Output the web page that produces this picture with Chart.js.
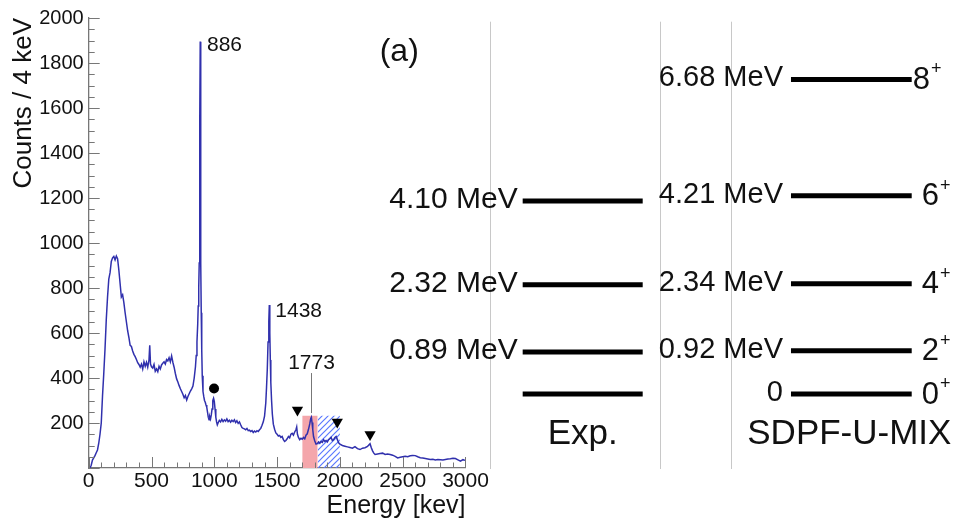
<!DOCTYPE html>
<html>
<head>
<meta charset="utf-8">
<script src="https://cdn.jsdelivr.net/npm/chart.js@4.4.1/dist/chart.umd.min.js"></script>
<style>
  html,body{margin:0;padding:0;background:#fff;}
  #wrap{position:relative;width:961px;height:519px;}
  canvas{position:absolute;left:0;top:0;}
</style>
</head>
<body>
<div id="wrap">
  <canvas id="spec" width="961" height="519"></canvas>
  <canvas id="lev" width="961" height="519"></canvas>
</div>
<script>
// ---------------- DATA ----------------
// gamma spectrum (energy in keV, counts / 4 keV)
const energies = [
  0,10,20,30,40,50,60,70,80,90,
  100,110,120,130,140,150,160,170,180,190,
  200,210,220,230,240,250,260,270,280,290,
  300,310,320,330,340,350,360,370,380,390,
  400,410,420,430,440,450,460,470,480,486,
  492,500,510,520,530,540,550,560,570,580,
  590,600,610,620,630,640,650,660,670,680,
  690,700,710,720,730,740,750,760,770,780,
  790,800,810,820,830,840,850,856,862,868,
  872,876,880,884,888,892,896,900,904,910,
  916,922,928,934,940,946,952,958,964,970,
  976,982,988,994,1000,1006,1012,1018,1024,1030,
  1040,1050,1060,1070,1080,1090,1100,1110,1120,1130,
  1140,1150,1160,1170,1180,1190,1200,1210,1220,1230,
  1240,1250,1260,1270,1280,1290,1300,1310,1320,1330,
  1340,1350,1360,1370,1380,1390,1400,1410,1416,1422,
  1428,1434,1438,1442,1446,1450,1456,1462,1470,1480,
  1490,1500,1510,1520,1530,1540,1550,1560,1570,1580,
  1590,1600,1610,1620,1630,1640,1650,1656,1662,1670,
  1680,1690,1700,1710,1720,1730,1740,1750,1760,1768,
  1773,1778,1784,1790,1800,1810,1820,1830,1840,1850,
  1860,1870,1880,1890,1900,1910,1920,1930,1940,1950,
  1960,1970,1980,1990,2000,2020,2040,2060,2080,2100,
  2120,2140,2160,2180,2200,2220,2230,2240,2250,2260,
  2270,2280,2300,2320,2340,2360,2380,2400,2420,2440,
  2460,2480,2500,2520,2540,2560,2580,2600,2620,2640,
  2660,2680,2700,2720,2740,2760,2780,2800,2820,2840,
  2860,2880,2900,2920,2940,2960,2980,2996
];
const counts = [
  0,0,12,35,45,55,68,80,110,150,
  200,320,420,530,660,760,840,868,918,934,
  940,925,942,930,880,820,760,770,735,690,
  650,610,580,545,540,520,505,495,482,468,
  460,448,462,440,472,452,470,448,480,545,
  462,450,444,460,430,440,428,452,440,458,
  466,472,462,482,476,490,472,498,470,448,
  420,396,382,366,352,340,328,312,322,302,
  318,330,342,352,364,400,450,500,560,640,
  720,800,911,1526,1895,911,690,524,410,340,
  318,300,292,280,270,248,226,214,228,218,
  236,262,300,310,296,262,226,205,192,200,
  212,205,216,206,214,208,218,206,212,204,
  212,206,214,202,210,198,205,192,180,176,
  174,170,176,166,168,162,166,158,164,160,
  166,162,170,176,190,205,230,290,360,440,
  560,650,724,600,480,380,300,240,195,172,
  156,150,142,145,136,140,126,118,122,130,
  140,134,150,154,146,160,170,182,150,136,
  126,132,128,136,130,146,152,172,196,220,
  226,202,170,140,120,106,108,116,110,118,
  114,126,118,122,116,126,130,136,122,126,
  136,140,126,112,106,100,97,94,91,88,
  95,86,82,88,90,96,102,108,90,76,
  66,60,62,64,66,60,62,60,57,52,
  45,48,50,52,50,54,56,55,50,46,
  44,42,40,38,39,36,38,37,36,38,
  40,41,43,42,36,30,37,34
];
const xTicks = [0, 500, 1000, 1500, 2000, 2500, 3000];
const yTicks = [200, 400, 600, 800, 1000, 1200, 1400, 1600, 1800, 2000];

// gated / background regions (keV) and their height (counts)
const gateRange = [1700, 1823];
const bgRange = [1823, 2000];
const regionHeight = [232];

// marker positions
const circleE = [998];
const circleC = [353];
const triangleE = [1662, 1979, 2240];
const triangleC = [258, 204, 149];

// peak labels
const peakTexts = ['886', '1438'];
const peakE = [886, 1438];
const peakC = [1895, 724];
const gateText = ['1773'];
const gateE = [1773];
const gateLabelC = [467];
const gateLineC = [422, 244];

// level scheme (MeV)
const expEnergies = [0, 0.89, 2.32, 4.10];
const expLabels = ['', '0.89 MeV', '2.32 MeV', '4.10 MeV'];
const thEnergies = [0, 0.92, 2.34, 4.21, 6.68];
const thLabels = ['0', '0.92 MeV', '2.34 MeV', '4.21 MeV', '6.68 MeV'];
const spins = ['0', '2', '4', '6', '8'];
const columnNames = ['Exp.', 'SDPF-U-MIX'];

// ---------------- LAYOUT / STYLE ----------------
const FONT = "'Liberation Sans', Arial, Helvetica, sans-serif";
Chart.defaults.font.family = FONT;
Chart.defaults.color = '#111';
const LINE_COLOR = '#3030ad';
const AXIS_COLOR = '#777';
// level-scheme column geometry (percent of the scheme area width)
const EXP_BAR = [6.80, 32.32];
const TH_BAR = [63.85, 89.52];
const DIVIDERS = [0, 36.15, 51.16];
const SPIN_DX = [10, 10, 10, 10, 1];

// hatch pattern
function hatchPattern() {
  const c = document.createElement('canvas');
  c.width = 6; c.height = 6;
  const g = c.getContext('2d');
  g.strokeStyle = '#5a78ff';
  g.lineWidth = 1.2;
  g.beginPath();
  g.moveTo(0, 6); g.lineTo(6, 0);
  g.moveTo(-1, 1); g.lineTo(1, -1);
  g.moveTo(5, 7); g.lineTo(7, 5);
  g.stroke();
  return g.createPattern(c, 'repeat');
}

// ---------------- SPECTRUM CHART ----------------
const specPoints = energies.map((e, i) => ({x: e, y: counts[i]}));

const specDecor = {
  id: 'specDecor',
  afterDraw(chart) {
    const {ctx, chartArea: a, scales: {x, y}} = chart;
    ctx.save();
    // inward ticks
    ctx.strokeStyle = AXIS_COLOR;
    ctx.lineWidth = 1;
    ctx.beginPath();
    for (let v = 0; v <= 3000; v += 100) {
      const px = Math.round(x.getPixelForValue(v)) + 0.5;
      const len = v % 500 === 0 ? 11 : 5.5;
      ctx.moveTo(px, a.bottom);
      ctx.lineTo(px, a.bottom - len);
    }
    for (let v = 0; v <= 2000; v += 50) {
      const py = Math.round(y.getPixelForValue(v)) + 0.5;
      const len = v % 200 === 0 ? 11 : 6;
      ctx.moveTo(a.left, py);
      ctx.lineTo(a.left + len, py);
    }
    ctx.stroke();

    // peak labels
    ctx.fillStyle = '#111';
    ctx.font = '21px ' + FONT;
    ctx.textBaseline = 'middle';
    ctx.textAlign = 'left';
    const offs = [[7, 4], [6, 6]];
    peakTexts.forEach((t, i) => {
      ctx.fillText(t, x.getPixelForValue(peakE[i]) + offs[i][0], y.getPixelForValue(peakC[i]) + offs[i][1]);
    });
    // gate label + line
    const gx = Math.round(x.getPixelForValue(gateE[0])) + 0.5;
    ctx.textAlign = 'center';
    ctx.fillText(gateText[0], gx, y.getPixelForValue(gateLabelC[0]));
    ctx.strokeStyle = AXIS_COLOR;
    ctx.beginPath();
    ctx.moveTo(gx, y.getPixelForValue(gateLineC[0]));
    ctx.lineTo(gx, y.getPixelForValue(gateLineC[1]));
    ctx.stroke();
    ctx.restore();
  }
};

new Chart(document.getElementById('spec'), {
  type: 'scatter',
  data: {
    datasets: [
      {
        data: circleE.map((e, i) => ({x: e, y: circleC[i]})),
        pointStyle: 'circle', pointRadius: 5, backgroundColor: '#000', borderColor: '#000', borderWidth: 0,
        showLine: false
      },
      {
        data: triangleE.map((e, i) => ({x: e, y: triangleC[i]})),
        pointStyle: 'triangle', rotation: 180, pointRadius: 6.5, backgroundColor: '#000', borderColor: '#000', borderWidth: 0,
        showLine: false
      },
      {
        data: specPoints, showLine: true, borderColor: LINE_COLOR, borderWidth: 1.5,
        pointRadius: 0, tension: 0, fill: false
      },
      {
        data: gateRange.map(e => ({x: e, y: regionHeight[0]})), showLine: true,
        borderWidth: 0, borderColor: 'rgba(0,0,0,0)', pointRadius: 0,
        fill: 'origin', backgroundColor: '#f4a6ab'
      },
      {
        data: bgRange.map(e => ({x: e, y: regionHeight[0]})), showLine: true,
        borderWidth: 0, borderColor: 'rgba(0,0,0,0)', pointRadius: 0,
        fill: 'origin', backgroundColor: hatchPattern()
      }
    ]
  },
  options: {
    responsive: false,
    animation: false,
    events: [],
    layout: {padding: {left: 0, right: 961 - 465.5, top: 18, bottom: 0}},
    plugins: {legend: {display: false}, tooltip: {enabled: false}},
    scales: {
      x: {
        type: 'linear', min: 0, max: 3000,
        afterBuildTicks: s => { s.ticks = xTicks.map(v => ({value: v})); },
        afterFit: s => { s.height = 51; },
        ticks: {font: {size: 21}, color: '#111', maxRotation: 0, autoSkip: false, padding: 1,
                callback: v => String(v)},
        grid: {display: false, drawTicks: false},
        border: {display: true, color: AXIS_COLOR, width: 1.3},
        title: {display: true, text: 'Energy [kev]', align: 'end', color: '#111',
                font: {size: 25, lineHeight: 1}, padding: {top: 0, bottom: 0}}
      },
      y: {
        type: 'linear', min: 0, max: 2000,
        afterBuildTicks: s => { s.ticks = yTicks.map(v => ({value: v})); },
        afterFit: s => { s.width = 88.7; },
        ticks: {font: {size: 20}, color: '#111', padding: 5, callback: v => String(v)},
        grid: {display: false, drawTicks: false},
        border: {display: true, color: AXIS_COLOR, width: 1.3},
        title: {display: true, text: 'Counts / 4 keV', align: 'end', color: '#111',
                font: {size: 26, lineHeight: 1}, padding: {top: 11, bottom: 0}}
      }
    }
  },
  plugins: [specDecor]
});

// ---------------- LEVEL SCHEME CHART ----------------
const levelDatasets = [];
expEnergies.forEach(E => levelDatasets.push({
  data: EXP_BAR.map(x => ({x, y: E})), showLine: true, borderColor: '#000', borderWidth: 5,
  borderCapStyle: 'butt', pointRadius: 0
}));
thEnergies.forEach(E => levelDatasets.push({
  data: TH_BAR.map(x => ({x, y: E})), showLine: true, borderColor: '#000', borderWidth: 5,
  borderCapStyle: 'butt', pointRadius: 0
}));

const levelText = {
  id: 'levelText',
  afterDraw(chart) {
    const {ctx, chartArea: a, scales: {x, y}} = chart;
    ctx.save();
    ctx.fillStyle = '#111';
    ctx.textBaseline = 'middle';
    // experimental energies
    ctx.textAlign = 'right';
    ctx.font = '30px ' + FONT;
    expEnergies.forEach((E, i) => {
      if (expLabels[i]) ctx.fillText(expLabels[i], x.getPixelForValue(EXP_BAR[0]) - 5, y.getPixelForValue(E) - 1);
    });
    // theory energies
    ctx.font = '29px ' + FONT;
    thEnergies.forEach((E, i) => {
      ctx.fillText(thLabels[i], x.getPixelForValue(TH_BAR[0]) - 8, y.getPixelForValue(E) - 1);
    });
    // spins
    ctx.textAlign = 'left';
    thEnergies.forEach((E, i) => {
      const px = x.getPixelForValue(TH_BAR[1]) + SPIN_DX[i];
      const py = y.getPixelForValue(E);
      ctx.font = '31px ' + FONT;
      ctx.textBaseline = 'middle';
      ctx.fillText(spins[i], px, py + 1);
      const w = ctx.measureText(spins[i]).width;
      ctx.font = '18px ' + FONT;
      ctx.fillText('+', px + w + 1, py - 10);
    });
    // column names
    ctx.textAlign = 'center';
    ctx.textBaseline = 'middle';
    ctx.font = '35px ' + FONT;
    ctx.fillText(columnNames[0], (x.getPixelForValue(EXP_BAR[0]) + x.getPixelForValue(EXP_BAR[1])) / 2, a.bottom - 35);
    ctx.fillText(columnNames[1], (x.getPixelForValue(TH_BAR[0]) + x.getPixelForValue(TH_BAR[1])) / 2 - 2, a.bottom - 35);
    // panel tag
    ctx.textAlign = 'left';
    ctx.font = '32px ' + FONT;
    ctx.fillText('(a)', a.left - 111, 52);
    ctx.restore();
  }
};

new Chart(document.getElementById('lev'), {
  type: 'scatter',
  data: {datasets: levelDatasets},
  options: {
    responsive: false,
    animation: false,
    events: [],
    layout: {padding: {left: 490.7, right: 0, top: 21.7, bottom: 50}},
    plugins: {legend: {display: false}, tooltip: {enabled: false}},
    scales: {
      x: {
        type: 'linear', min: 0, max: 100,
        afterBuildTicks: s => { s.ticks = DIVIDERS.map(v => ({value: v})); },
        afterFit: s => { s.height = 0; },
        ticks: {display: false},
        grid: {display: true, drawTicks: false, color: '#c8c8c8', lineWidth: 1},
        border: {display: false}
      },
      y: {
        type: 'linear', min: -1.592, max: 7.905,
        display: false
      }
    }
  },
  plugins: [levelText]
});
</script>
</body>
</html>
